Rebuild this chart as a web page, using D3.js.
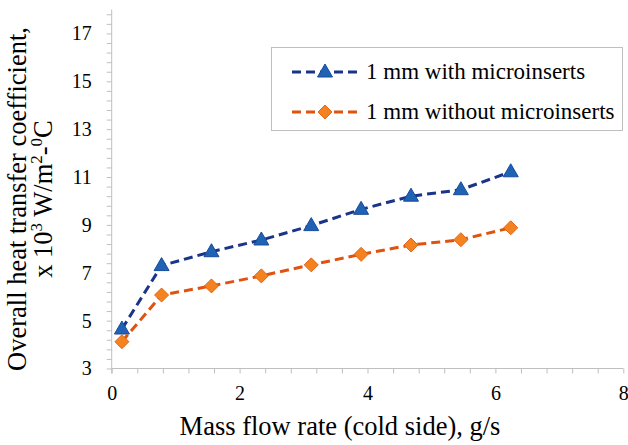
<!DOCTYPE html>
<html><head><meta charset="utf-8">
<script src="https://cdn.jsdelivr.net/npm/d3@7"></script>
<style>
body{margin:0;background:#fff;}
text{font-family:"Liberation Serif",serif !important;}
</style></head>
<body><svg id="c" width="628" height="445" font-family="Liberation Serif"></svg>
<script>
const flowRate = [0.16, 0.78, 1.56, 2.34, 3.12, 3.90, 4.68, 5.46, 6.24];
const withInserts = [4.65, 7.30, 7.88, 8.37, 8.97, 9.65, 10.20, 10.47, 11.22];
const withoutInserts = [4.12, 6.07, 6.45, 6.87, 7.33, 7.77, 8.16, 8.38, 8.88];
const seriesNames = ["1 mm with microinserts", "1 mm without microinserts"];
const xTicks = [0, 2, 4, 6, 8];
const yTicks = [3, 5, 7, 9, 11, 13, 15, 17];

const FONT = "Liberation Serif";
const svg = d3.select("#c");
const x = d3.scaleLinear().domain([0, 8]).range([111.7, 623.3]);
const y = d3.scaleLinear().domain([3, 18]).range([368.5, 9.5]);
const axisColor = "#bfbfbf";

const xMinor = d3.range(0, 8.001, 0.4);
const yMinor = d3.range(3, 18.001, 0.4).filter(v => v <= 18);

const gx = svg.append("g").attr("transform", `translate(0,${y(3)})`)
  .call(d3.axisBottom(x).tickValues(xMinor).tickSize(5).tickFormat(""));
gx.select(".domain").attr("stroke", axisColor).attr("d", `M${x(0)},0H${x(8)}`);
gx.selectAll(".tick line").attr("stroke", axisColor);
const gxl = svg.append("g").attr("transform", `translate(0,${y(3)})`)
  .call(d3.axisBottom(x).tickValues(xTicks).tickSize(0).tickPadding(17).tickFormat(d3.format("d")));
gxl.attr("font-family", FONT).attr("font-size", 20);
gxl.select(".domain").remove();
gxl.selectAll("text").attr("fill", "#000");

const gy = svg.append("g").attr("transform", `translate(${x(0)},0)`)
  .call(d3.axisLeft(y).tickValues(yMinor).tickSize(5).tickFormat(""));
gy.select(".domain").attr("stroke", axisColor).attr("d", `M0,${y(18)}V${y(3)+5}`);
gy.selectAll(".tick line").attr("stroke", axisColor);
const gyl = svg.append("g").attr("transform", `translate(${x(0)},0)`)
  .call(d3.axisLeft(y).tickValues(yTicks).tickSize(0).tickPadding(20).tickFormat(d3.format("d")));
gyl.attr("font-family", FONT).attr("font-size", 20);
gyl.select(".domain").remove();
gyl.selectAll("text").attr("fill", "#000");

// titles
svg.append("text").attr("x", 340).attr("y", 435).attr("text-anchor", "middle")
  .attr("font-family", FONT).attr("font-size", 26.5).text("Mass flow rate (cold side), g/s");

const yt = svg.append("g").attr("transform", "translate(0,199) rotate(-90)")
  .attr("font-family", FONT).attr("font-size", 26.5);
yt.append("text").attr("x", 0).attr("y", 26).attr("text-anchor", "middle")
  .text("Overall heat transfer coefficient,");
const t2 = yt.append("text").attr("x", 0).attr("y", 52).attr("text-anchor", "middle");
t2.append("tspan").text("x 10");
t2.append("tspan").attr("font-size", 17).attr("dy", -10).text("3");
t2.append("tspan").attr("dy", 10).text(" W/m");
t2.append("tspan").attr("font-size", 17).attr("dy", -10).text("2");
t2.append("tspan").attr("dy", 10).text("-");
t2.append("tspan").attr("font-size", 17).attr("dy", -10).text("0");
t2.append("tspan").attr("dy", 10).text("C");

// series
const series = [
  {name: seriesNames[0], values: withInserts, line: "#1a3488", fill: "#1f63b5", stroke: "#1a4a9a", shape: "triangle"},
  {name: seriesNames[1], values: withoutInserts, line: "#e0520f", fill: "#f3821f", stroke: "#e0661a", shape: "diamond"}
];
const line = d3.line().x(d => x(d[0])).y(d => y(d[1]));
function marker(g, shape, cx, cy, s) {
  if (shape === "triangle") {
    g.append("path").attr("d", `M${cx},${cy-8}L${cx+7.5},${cy+5}L${cx-7.5},${cy+5}Z`)
      .attr("fill", s.fill).attr("stroke", s.stroke).attr("stroke-width", 1);
  } else {
    g.append("path").attr("d", `M${cx},${cy-7}L${cx+7},${cy}L${cx},${cy+7}L${cx-7},${cy}Z`)
      .attr("fill", s.fill).attr("stroke", s.stroke).attr("stroke-width", 1);
  }
}
series.forEach(s => {
  const pts = flowRate.map((v, i) => [v, s.values[i]]);
  svg.append("path").attr("d", line(pts)).attr("fill", "none").attr("stroke", s.line)
    .attr("stroke-width", 3).attr("stroke-dasharray", "9,5");
  const g = svg.append("g");
  pts.forEach(p => marker(g, s.shape, x(p[0]), y(p[1]), s));
});

// legend
const lg = svg.append("g").attr("font-family", FONT);
lg.append("rect").attr("x", 271.5).attr("y", 47.5).attr("width", 351).attr("height", 83)
  .attr("fill", "#fff").attr("stroke", "#bfbfbf").attr("stroke-width", 1);
series.forEach((s, i) => {
  const ly = 72 + i * 40;
  lg.append("line").attr("x1", 292).attr("x2", 359).attr("y1", ly).attr("y2", ly)
    .attr("stroke", s.line).attr("stroke-width", 3).attr("stroke-dasharray", "9,5");
  marker(lg, s.shape, 325, ly, s);
  lg.append("text").attr("x", 366).attr("y", ly + 7).attr("font-size", 23).text(s.name);
});
</script></body></html>
